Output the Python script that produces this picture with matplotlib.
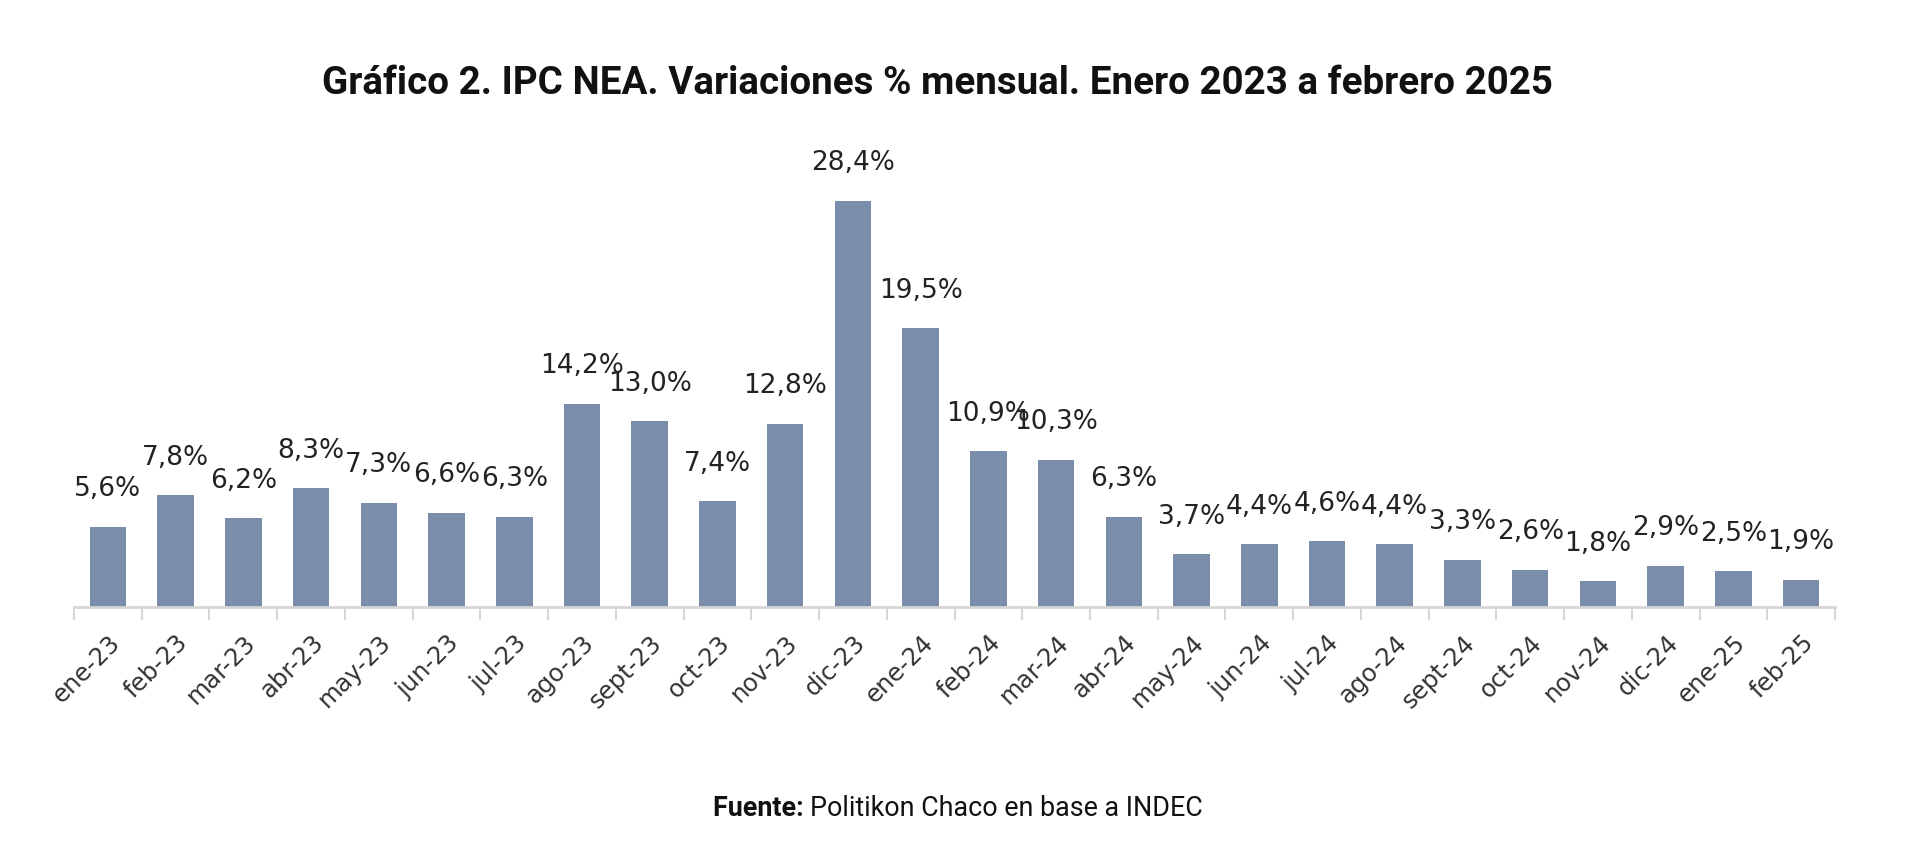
import matplotlib
matplotlib.use("Agg")
import matplotlib.pyplot as plt
import numpy as np

# datos: IPC NEA, variacion % mensual
meses = ["ene-23", "feb-23", "mar-23", "abr-23", "may-23", "jun-23", "jul-23",
         "ago-23", "sept-23", "oct-23", "nov-23", "dic-23", "ene-24", "feb-24",
         "mar-24", "abr-24", "may-24", "jun-24", "jul-24", "ago-24", "sept-24",
         "oct-24", "nov-24", "dic-24", "ene-25", "feb-25"]
variacion = [5.6, 7.8, 6.2, 8.3, 7.3, 6.6, 6.3, 14.2, 13.0, 7.4, 12.8, 28.4,
             19.5, 10.9, 10.3, 6.3, 3.7, 4.4, 4.6, 4.4, 3.3, 2.6, 1.8, 2.9,
             2.5, 1.9]

W, H = 1920, 843
fig = plt.figure(figsize=(W / 100, H / 100), dpi=100)
fig.patch.set_facecolor("white")

# ejes en pixeles de la imagen
x0, x1 = 74, 1835
ybase, ytop = 607, 178
ax = fig.add_axes([x0 / W, 1 - ybase / H, (x1 - x0) / W, (ybase - ytop) / H])

x = np.arange(len(meses))
ax.bar(x, variacion, width=0.54, color="#7a8eab", zorder=2)

for xi, v in zip(x, variacion):
    ax.annotate(f"{v:.1f}%".replace(".", ","), (xi, v), xytext=(0, 27),
                textcoords="offset points", ha="center", va="center",
                fontsize=19, color="#222222", family="DejaVu Sans")

ax.set_xlim(-0.5, len(meses) - 0.5)
ax.set_ylim(0, 30)

for s in ["top", "right", "left"]:
    ax.spines[s].set_visible(False)
ax.spines["bottom"].set_color("#d6d6d6")
ax.spines["bottom"].set_linewidth(2)
ax.set_yticks([])

ax.set_xticks(x)
ax.set_xticklabels(meses, rotation=45, ha="right", rotation_mode="anchor",
                   fontsize=17.5, color="#333333", family="DejaVu Sans")
ax.tick_params(axis="x", which="major", length=0, pad=17)
ax.set_xticks(np.arange(-0.5, len(meses)), minor=True)
ax.tick_params(axis="x", which="minor", length=9, width=1.5, color="#d6d6d6")

fig.text(0.488, 1 - 83 / H,
         "Gráfico 2. IPC NEA. Variaciones % mensual. Enero 2023 a febrero 2025",
         ha="center", va="center", fontsize=27.7, fontweight="bold",
         family="Roboto", color="#111111")

# fuente: parte en negrita + parte normal
fig.canvas.draw()
r = fig.canvas.get_renderer()
t1 = fig.text(0, 0, "Fuente: ", fontsize=19.4, fontweight="bold", family="Roboto",
              color="#111111", va="center")
t2 = fig.text(0, 0, "Politikon Chaco en base a INDEC", fontsize=19.4,
              family="Roboto", color="#111111", va="center")
w1 = t1.get_window_extent(r).width
w2 = t2.get_window_extent(r).width
xs = 958 - (w1 + w2) / 2
yf = 1 - 808 / H
t1.set_position((xs / W, yf))
t2.set_position(((xs + w1) / W, yf))

fig.savefig("out.png", dpi=100)
